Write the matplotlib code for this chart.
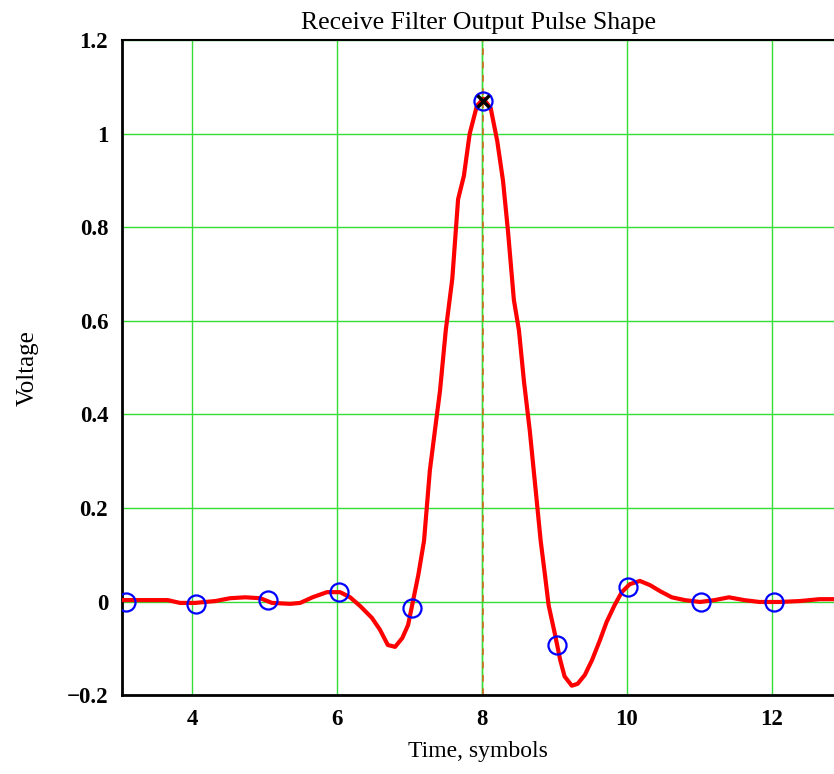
import matplotlib.pyplot as plt

# pulse shape (time in symbols, voltage)
t_curve = [3.03, 3.42, 3.66, 3.83, 4.04, 4.32, 4.52, 4.73, 4.94, 5.10, 5.35, 5.49,
           5.66, 5.86, 6.04, 6.18, 6.32, 6.48, 6.59, 6.70, 6.80, 6.90, 6.98, 7.05,
           7.12, 7.20, 7.28, 7.37, 7.42, 7.50, 7.59, 7.67, 7.75, 7.83, 7.93, 8.02,
           8.12, 8.21, 8.29, 8.36, 8.44, 8.51, 8.58, 8.66, 8.74, 8.81, 8.87, 8.92,
           9.01, 9.08, 9.14, 9.24, 9.32, 9.42, 9.52, 9.63, 9.72, 9.83, 9.93, 10.04,
           10.18, 10.32, 10.46, 10.62, 10.80, 11.01, 11.21, 11.41, 11.62, 11.83,
           12.11, 12.39, 12.66, 12.86]
v_curve = [0.003, 0.003, 0.003, -0.003, -0.003, 0.001, 0.007, 0.009, 0.007, -0.003,
           -0.005, -0.003, 0.009, 0.02, 0.02, 0.009, -0.01, -0.035, -0.06, -0.093,
           -0.097, -0.078, -0.05, 0.003, 0.056, 0.13, 0.28, 0.39, 0.45, 0.58, 0.69,
           0.86, 0.91, 1.00, 1.06, 1.075, 1.055, 0.985, 0.90, 0.79, 0.645, 0.58,
           0.47, 0.365, 0.24, 0.13, 0.056, -0.008, -0.072, -0.125, -0.16, -0.18,
           -0.176, -0.157, -0.125, -0.082, -0.044, -0.008, 0.02, 0.037, 0.044, 0.035,
           0.022, 0.009, 0.003, -0.001, 0.003, 0.009, 0.003, -0.001, -0.001, 0.001,
           0.005, 0.005]

# symbol-rate samples
t_samples = [3.08, 4.05, 5.04, 6.02, 7.03, 8.02, 9.03, 10.01, 11.02, 12.03]
v_samples = [0.0, -0.005, 0.003, 0.02, -0.013, 1.07, -0.093, 0.03, 0.0, 0.0]

t_peak = 8.02
v_peak = 1.07

x_ticks = [4, 6, 8, 10, 12]
y_ticks = [-0.2, 0, 0.2, 0.4, 0.6, 0.8, 1.0, 1.2]
y_labels = ["\u22120.2", "0", "0.2", "0.4", "0.6", "0.8", "1", "1.2"]

plt.rcParams["font.family"] = ["Liberation Serif", "DejaVu Serif"]

fig = plt.figure(figsize=(8.34, 7.74), dpi=100)
ax = fig.add_axes([0.1463, 0.102, 0.8537, 0.846])

ax.axvline(8, color="#33dd33", lw=1.0, zorder=1)
ax.axvline(t_peak, color="#d2691e", lw=1.2, ls=(0, (4, 4)), zorder=2)
ax.plot(t_curve, v_curve, color="#ff0000", lw=3.0, zorder=3)
ax.plot(t_samples, v_samples, "o", mfc="none", mec="#0000ff", ms=13, mew=1.6, zorder=4)
ax.plot([t_peak], [v_peak], "x", color="black", ms=8, mew=2.5, zorder=5)

ax.set_xlim(3.03, 12.86)
ax.set_ylim(-0.2, 1.2)
ax.set_xticks(x_ticks)
ax.set_yticks(y_ticks)
ax.set_yticklabels(y_labels)
ax.grid(True, color="#33dd33", lw=1.0)
ax.set_axisbelow(True)
ax.tick_params(length=0, labelsize=16.5, pad=10)
for lbl in ax.get_xticklabels() + ax.get_yticklabels():
    lbl.set_fontweight("bold")

ax.spines["right"].set_visible(False)
for s in ["left", "bottom"]:
    ax.spines[s].set_linewidth(2.0)
ax.spines["top"].set_linewidth(1.5)

ax.set_title("Receive Filter Output Pulse Shape", fontsize=18.5, pad=8)
ax.set_xlabel("Time, symbols", fontsize=17, labelpad=8)
ax.set_ylabel("Voltage", fontsize=18, labelpad=20)

fig.savefig("out.png", dpi=100)
